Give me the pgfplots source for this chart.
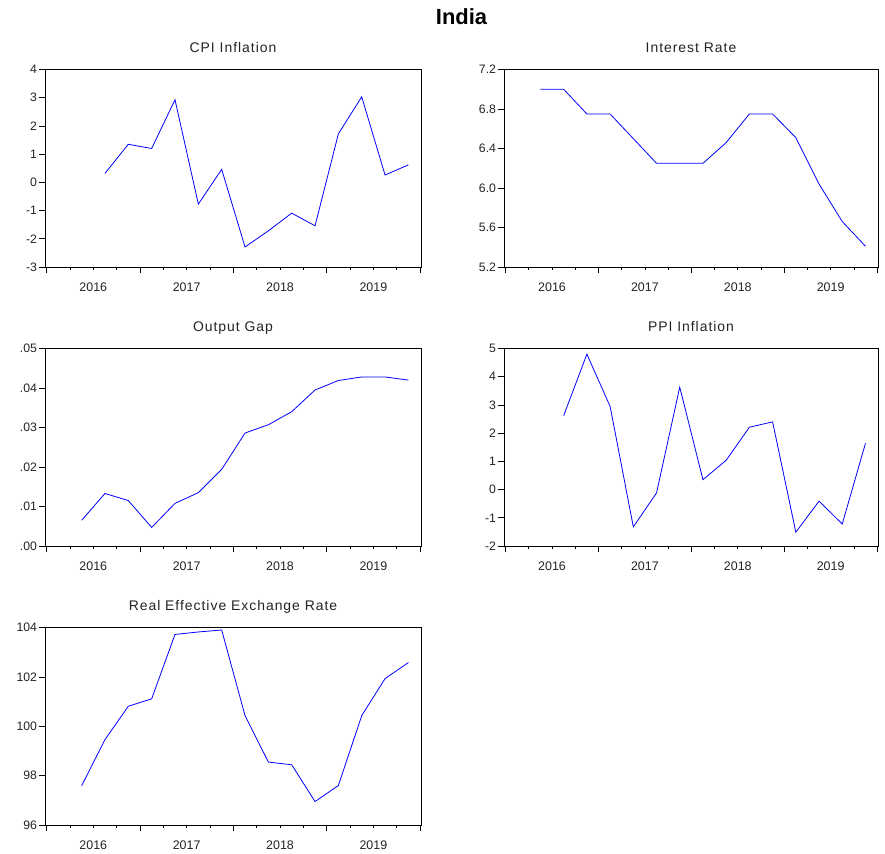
\documentclass[border=0pt]{standalone}
\usepackage{fontspec}
\setmainfont{Liberation Sans}
\newfontfamily\titlefont[LetterSpace=7]{Liberation Sans}
\usepackage{pgfplots}
\pgfplotsset{compat=1.18}
\definecolor{txt}{RGB}{35,35,35}
\pgfplotsset{
  eviews/.style={
    scale only axis, width=376bp, height=197.5bp,
    xmin=0.43, xmax=16.54,
    axis line style={black, line width=0.7bp},
    tick style={black, line width=0.7bp},
    tick align=outside,
    xtick pos=left, ytick pos=left,
    scaled y ticks=false, scaled x ticks=false,
    xtick={0.5,4.5,8.5,12.5,16.5}, xticklabels={},
    minor xtick={1.5,2.5,...,15.5},
    major tick length=6bp, minor tick length=3bp,
    extra x ticks={2.5,6.5,10.5,14.5},
    extra x tick labels={2016,2017,2018,2019},
    extra x tick style={major tick length=0pt},
    xticklabel style={font=\fontsize{12.5}{14}\selectfont, text=txt, anchor=base, yshift=-24bp},
    yticklabel style={font=\fontsize{12.3}{14}\selectfont, text=txt, xshift=1.5bp},
    title style={font=\titlefont\fontsize{14}{16}\selectfont, text=txt, anchor=base, yshift=11bp},
    anchor=south west,
  },
  ser/.style={blue, line width=0.8bp},
}
\begin{document}
\begin{tikzpicture}
\useasboundingbox (0,0) rectangle (885bp,-854bp);
\node[anchor=base, font=\bfseries\fontsize{22}{26}\selectfont, text=black] at (461.5bp,-24bp) {India};

\begin{axis}[eviews, at={(45bp,-267bp)}, title={CPI Inflation},
  ymin=-3, ymax=4, ytick={-3,-2,-1,0,1,2,3,4}, yticklabels={-3,-2,-1,0,1,2,3,4}]
\addplot[ser] coordinates {(3,0.32) (4,1.35) (5,1.20) (6,2.93) (7,-0.77) (8,0.46) (9,-2.29) (10,-1.72) (11,-1.09) (12,-1.54) (13,1.72) (14,3.03) (15,0.26) (16,0.62)};
\end{axis}

\begin{axis}[eviews, width=374bp, at={(504bp,-267bp)}, title={Interest Rate},
  ymin=5.2, ymax=7.2, ytick={5.2,5.6,6.0,6.4,6.8,7.2}, yticklabels={5.2,5.6,6.0,6.4,6.8,7.2}]
\addplot[ser] coordinates {(2,7.0) (3,7.0) (4,6.75) (5,6.75) (6,6.5) (7,6.25) (8,6.25) (9,6.25) (10,6.46) (11,6.75) (12,6.75) (13,6.51) (14,6.04) (15,5.66) (16,5.41)};
\end{axis}

\begin{axis}[eviews, at={(45bp,-546bp)}, title={Output Gap},
  ymin=0, ymax=0.05, ytick={0,0.01,0.02,0.03,0.04,0.05}, yticklabels={.00,.01,.02,.03,.04,.05}]
\addplot[ser] coordinates {(2,0.0065) (3,0.0133) (4,0.0115) (5,0.0047) (6,0.0108) (7,0.0135) (8,0.0194) (9,0.0286) (10,0.0307) (11,0.0340) (12,0.0395) (13,0.0419) (14,0.0428) (15,0.0428) (16,0.0420)};
\end{axis}

\begin{axis}[eviews, width=374bp, at={(504bp,-546bp)}, title={PPI Inflation},
  ymin=-2, ymax=5, ytick={-2,-1,0,1,2,3,4,5}, yticklabels={-2,-1,0,1,2,3,4,5}]
\addplot[ser] coordinates {(3,2.62) (4,4.80) (5,2.95) (6,-1.32) (7,-0.12) (8,3.63) (9,0.35) (10,1.04) (11,2.21) (12,2.40) (13,-1.51) (14,-0.41) (15,-1.22) (16,1.64)};
\end{axis}

\begin{axis}[eviews, at={(45bp,-825bp)}, title={Real Effective Exchange Rate},
  ymin=96, ymax=104, ytick={96,98,100,102,104}, yticklabels={96,98,100,102,104}]
\addplot[ser] coordinates {(2,97.59) (3,99.46) (4,100.81) (5,101.11) (6,103.72) (7,103.82) (8,103.90) (9,100.43) (10,98.55) (11,98.44) (12,96.95) (13,97.60) (14,100.43) (15,101.93) (16,102.58)};
\end{axis}
\end{tikzpicture}
\end{document}
